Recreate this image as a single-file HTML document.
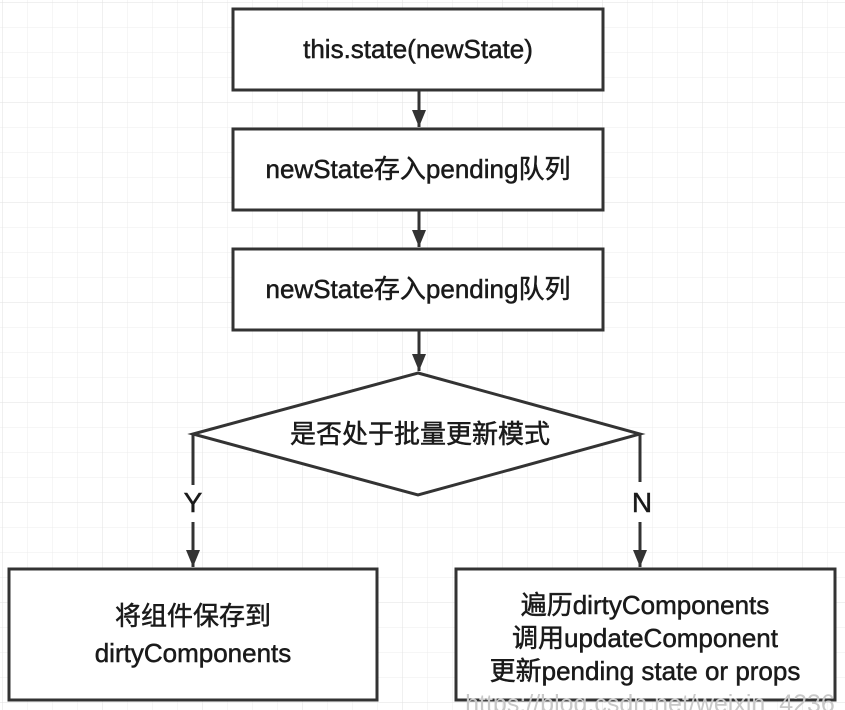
<!DOCTYPE html>
<html><head><meta charset="utf-8"><style>
html,body{margin:0;padding:0;background:#fff}
svg{display:block}
text{font-family:"Liberation Sans","Noto Sans CJK SC",sans-serif;font-size:26px;fill:#1a1a1a;stroke:#1a1a1a;stroke-width:0.5;text-anchor:middle}
</style></head><body>
<svg width="845" height="710" viewBox="0 0 845 710" xmlns="http://www.w3.org/2000/svg">
<defs>
<pattern id="g" x="2" y="2" width="25" height="25" patternUnits="userSpaceOnUse">
<path d="M0 0H25M0 0V25" stroke="#ececec" stroke-width="1" fill="none"/>
</pattern>
<pattern id="G" x="2" y="2" width="100" height="100" patternUnits="userSpaceOnUse">
<path d="M0 0H100M0 0V100" stroke="#e2e2e2" stroke-width="1" fill="none"/>
</pattern>
</defs>
<rect width="845" height="710" fill="url(#g)"/>
<rect width="845" height="710" fill="url(#G)"/>
<g stroke="#333" stroke-width="3" fill="#fff">
<rect x="233" y="9" width="370" height="81"/>
<rect x="233" y="129" width="370" height="81"/>
<rect x="233" y="249" width="370" height="81"/>
<polygon points="418,373 640,434 418,495 193,434"/>
<rect x="9" y="569" width="368" height="131"/>
<rect x="456" y="569" width="379" height="131"/>
</g>
<g stroke="#333" stroke-width="3" fill="none">
<line x1="419" y1="90" x2="419" y2="127"/>
<line x1="419" y1="210" x2="419" y2="247"/>
<line x1="419" y1="330" x2="419" y2="371"/>
<polyline points="193,434 193,485"/>
<line x1="193" y1="522" x2="193" y2="567"/>
<polyline points="640,434 640,482"/>
<line x1="640" y1="522" x2="640" y2="567"/>
</g>
<g fill="#333">
<path d="M412 110L426 110L419 127Z"/>
<path d="M412 230L426 230L419 247Z"/>
<path d="M412 354L426 354L419 371Z"/>
<path d="M186 550L200 550L193 567Z"/>
<path d="M633 550L647 550L640 567Z"/>
</g>
<text x="418" y="58">this.state(newState)</text>
<text x="418" y="178">newState存入pending队列</text>
<text x="418" y="298">newState存入pending队列</text>
<text x="420" y="443">是否处于批量更新模式</text>
<text x="193" y="512" style="font-size:28px">Y</text>
<text x="642" y="512" style="font-size:28px">N</text>
<text x="193" y="625">将组件保存到</text>
<text x="193" y="662">dirtyComponents</text>
<text x="645" y="614">遍历dirtyComponents</text>
<text x="645" y="647">调用updateComponent</text>
<text x="645" y="680">更新pending state or props</text>
<text x="650" y="712" style="font-size:25px;fill:#c8c8c8;stroke:none">https://blog.csdn.net/weixin_4236</text>
</svg>
</body></html>
